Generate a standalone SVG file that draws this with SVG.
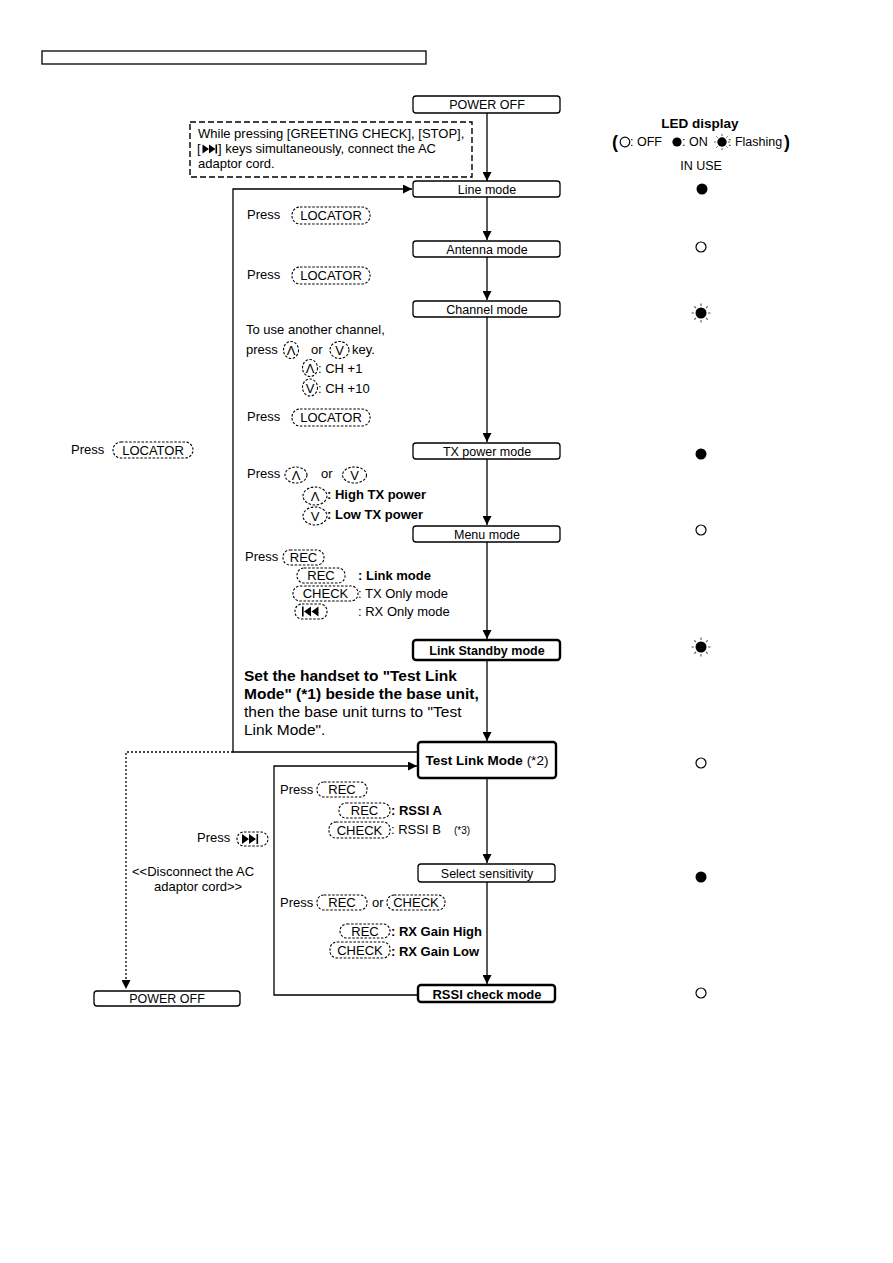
<svg xmlns="http://www.w3.org/2000/svg" width="893" height="1263" viewBox="0 0 893 1263">
<style>
.t{font-family:"Liberation Sans",Arial,sans-serif;font-size:13px;fill:#000}
.s{font-size:12.5px}
.c{text-anchor:middle}
.b{font-weight:bold}
.box{fill:#fff;stroke:#000;stroke-width:1.3}
.bb{fill:#fff;stroke:#000;stroke-width:2.4}
.key{fill:none;stroke:#000;stroke-width:1.1;stroke-dasharray:2.5 1.6}
.ln{fill:none;stroke:#000;stroke-width:1.3}
.dl{fill:none;stroke:#000;stroke-width:1.3;stroke-dasharray:2 2}
.on{fill:#000}
.off{fill:none;stroke:#000;stroke-width:1.2}
.ray{stroke:#555;stroke-width:1.1}
.p16{font-size:15.5px}
.lg{font-size:12.5px}
.par{font-size:18px;font-weight:bold}
</style>
<defs>
<marker id="ah" viewBox="0 0 10 10" refX="10" refY="5" markerWidth="9" markerHeight="9" markerUnits="userSpaceOnUse" orient="auto">
<path d="M0,0 L10,5 L0,10 z" fill="#000"/>
</marker>
<g id="flash">
<circle r="5.5" fill="#000"/>
<path class="ray" d="M0,-7V-9.5M0,7V9.5M-7,0H-9.5M7,0H9.5M5,-5L6.7,-6.7M-5,-5L-6.7,-6.7M5,5L6.7,6.7M-5,5L-6.7,6.7"/>
</g>
</defs>

<rect x="42" y="51" width="384" height="13" fill="none" stroke="#000" stroke-width="1.3"/>

<g id="connectors">
<path class="ln" d="M487,113V181" marker-end="url(#ah)"/>
<path class="ln" d="M487,197V240" marker-end="url(#ah)"/>
<path class="ln" d="M487,257V300" marker-end="url(#ah)"/>
<path class="ln" d="M487,317V442" marker-end="url(#ah)"/>
<path class="ln" d="M487,459V525" marker-end="url(#ah)"/>
<path class="ln" d="M487,542V639" marker-end="url(#ah)"/>
<path class="ln" d="M487,661V741" marker-end="url(#ah)"/>
<path class="ln" d="M487,778V863" marker-end="url(#ah)"/>
<path class="ln" d="M487,882V984" marker-end="url(#ah)"/>
<path class="ln" d="M418,752H233V189H412" marker-end="url(#ah)"/>
<path class="dl" d="M233,752H126V989" marker-end="url(#ah)"/>
<path class="ln" d="M418,995H274V766H417" marker-end="url(#ah)"/>
</g>

<g id="note">
<rect x="190" y="122" width="282" height="55" fill="none" stroke="#000" stroke-width="1.4" stroke-dasharray="6 3"/>
<text class="t" x="198" y="138">While pressing [GREETING CHECK], [STOP],</text>
<text class="t" x="197" y="153">[</text>
<path d="M202.5,144.5V153.5L209,149zM209,144.5V153.5L215.5,149z" fill="#000"/>
<rect x="215.5" y="144.5" width="1.6" height="9" fill="#000"/>
<text class="t" x="218" y="153">] keys simultaneously, connect the AC</text>
<text class="t" x="198" y="168">adaptor cord.</text>
</g>

<g id="n-poweroff"><rect class="box" x="413" y="96" width="147" height="17" rx="3"/><text class="t s c" x="487" y="109">POWER OFF</text></g>
<g id="n-line"><rect class="box" x="413" y="181" width="147" height="16" rx="3"/><text class="t s c" x="487" y="193.5">Line mode</text></g>
<g id="n-antenna"><rect class="box" x="413" y="241" width="147" height="16" rx="3"/><text class="t s c" x="487" y="253.5">Antenna mode</text></g>
<g id="n-channel"><rect class="box" x="413" y="301" width="147" height="16" rx="3"/><text class="t s c" x="487" y="313.5">Channel mode</text></g>
<g id="n-txpower"><rect class="box" x="413" y="443" width="147" height="16" rx="3"/><text class="t s c" x="487" y="455.5">TX power mode</text></g>
<g id="n-menu"><rect class="box" x="413" y="526" width="147" height="16" rx="3"/><text class="t s c" x="487" y="538.5">Menu mode</text></g>
<g id="n-linkstandby"><rect class="bb" x="413" y="640" width="147" height="20" rx="3"/><text class="t s c b" x="487" y="655">Link Standby mode</text></g>
<g id="n-testlink"><rect class="bb" x="418" y="742" width="138" height="36" rx="3"/><text class="t c" x="487" y="764.5" style="font-size:13.5px"><tspan class="b">Test Link Mode</tspan> (*2)</text></g>
<g id="n-select"><rect class="box" x="418" y="864" width="137" height="18" rx="3"/><text class="t s c" x="487" y="877.5">Select sensitivity</text></g>
<g id="n-rssi"><rect class="bb" x="418" y="985" width="137" height="17" rx="3"/><text class="t c b" x="487" y="998.5">RSSI check mode</text></g>
<g id="n-poweroff2"><rect class="box" x="94" y="991" width="146" height="15" rx="3"/><text class="t s c" x="167" y="1003">POWER OFF</text></g>

<g id="led">
<text class="t c b" x="700" y="128" style="font-size:13.5px">LED display</text>
<text class="t par" x="612" y="148">(</text>
<circle class="off" cx="625" cy="142" r="4.8"/>
<text class="t lg" x="630" y="146">: OFF</text>
<circle class="on" cx="677" cy="142" r="4.6"/>
<text class="t lg" x="682" y="146">: ON</text>
<use href="#flash" transform="translate(722 142) scale(0.85)"/>
<text class="t lg" x="728" y="146">: Flashing</text>
<text class="t par" x="784" y="148">)</text>
<text class="t s c" x="701" y="170">IN USE</text>
<circle class="on" cx="702" cy="189" r="5.5"/>
<circle class="off" cx="701" cy="247" r="5"/>
<use href="#flash" x="701" y="313"/>
<circle class="on" cx="701" cy="454" r="5.5"/>
<circle class="off" cx="701" cy="530" r="5"/>
<use href="#flash" x="701" y="647"/>
<circle class="off" cx="701" cy="763" r="5"/>
<circle class="on" cx="701" cy="877" r="5.5"/>
<circle class="off" cx="701" cy="993" r="5"/>
</g>

<g id="labels">
<text class="t" x="247" y="219">Press</text>
<rect class="key" x="292" y="207" width="78" height="17" rx="8"/><text class="t c" x="331" y="220">LOCATOR</text>
<text class="t" x="247" y="279">Press</text>
<rect class="key" x="292" y="267" width="78" height="17" rx="8"/><text class="t c" x="331" y="280">LOCATOR</text>

<text class="t" x="246" y="334">To use another channel,</text>
<text class="t" x="246" y="354">press</text>
<ellipse class="key" cx="291" cy="350" rx="7.5" ry="8.5"/><text class="t c" x="291" y="355">Λ</text>
<text class="t" x="311" y="354">or</text>
<ellipse class="key" cx="339.5" cy="350" rx="9.5" ry="8.5"/><text class="t c" x="339.5" y="355">V</text>
<text class="t" x="352" y="354">key.</text>
<ellipse class="key" cx="310" cy="368" rx="7.5" ry="8.5"/><text class="t c" x="310" y="373">Λ</text>
<text class="t" x="318" y="373">: CH +1</text>
<ellipse class="key" cx="310" cy="387.5" rx="7.5" ry="8.5"/><text class="t c" x="310" y="392.5">V</text>
<text class="t" x="318" y="392.5">: CH +10</text>

<text class="t" x="247" y="421">Press</text>
<rect class="key" x="292" y="409" width="78" height="17" rx="8"/><text class="t c" x="331" y="422">LOCATOR</text>

<text class="t" x="71" y="454">Press</text>
<rect class="key" x="113" y="442" width="80" height="16" rx="8"/><text class="t c" x="153" y="455">LOCATOR</text>

<text class="t" x="247" y="478">Press</text>
<ellipse class="key" cx="296" cy="475" rx="11" ry="8"/><text class="t c" x="296" y="480">Λ</text>
<text class="t" x="321" y="478">or</text>
<ellipse class="key" cx="354.5" cy="475" rx="12" ry="8"/><text class="t c" x="354.5" y="480">V</text>
<ellipse class="key" cx="315" cy="496" rx="12" ry="9"/><text class="t c" x="315" y="501">Λ</text>
<text class="t b" x="327" y="499">: High TX power</text>
<ellipse class="key" cx="315" cy="516" rx="12" ry="9"/><text class="t c" x="315" y="521">V</text>
<text class="t b" x="327" y="519">: Low TX power</text>

<text class="t" x="245" y="561">Press</text>
<rect class="key" x="283" y="550" width="41" height="15" rx="7"/><text class="t c" x="303.5" y="562">REC</text>
<rect class="key" x="297" y="568" width="48" height="15" rx="7"/><text class="t c" x="321" y="580">REC</text>
<text class="t b" x="358" y="580">: Link mode</text>
<rect class="key" x="293" y="586" width="65" height="15" rx="7"/><text class="t c" x="325.5" y="598">CHECK</text>
<text class="t" x="358" y="598">: TX Only mode</text>
<rect class="key" x="295" y="604" width="32" height="15" rx="7"/>
<rect x="302" y="606.5" width="1.6" height="10" fill="#000"/>
<path d="M311,606.5V616.5L304,611.5zM318.5,606.5V616.5L311.5,611.5z" fill="#000"/>
<text class="t" x="358" y="616">: RX Only mode</text>

<text class="t b p16" x="244" y="681">Set the handset  to "Test Link</text>
<text class="t b p16" x="244" y="699">Mode" (*1) beside the base unit,</text>
<text class="t p16" x="244" y="717">then the base unit turns to "Test</text>
<text class="t p16" x="244" y="735">Link Mode".</text>

<text class="t" x="280" y="794">Press</text>
<rect class="key" x="317" y="782" width="50" height="15" rx="7"/><text class="t c" x="342" y="794">REC</text>
<rect class="key" x="339" y="803" width="51" height="15" rx="7"/><text class="t c" x="364.5" y="815">REC</text>
<text class="t b" x="391" y="815">: RSSI A</text>
<rect class="key" x="329" y="822" width="61" height="16" rx="7"/><text class="t c" x="359.5" y="835">CHECK</text>
<text class="t" x="391" y="834">: RSSI B</text>
<text class="t" x="454" y="834" style="font-size:10px">(*3)</text>

<text class="t" x="197" y="842">Press</text>
<rect class="key" x="237" y="832" width="31" height="14" rx="7"/>
<path d="M242,834V844L249,839zM249,834V844L256,839z" fill="#000"/>
<rect x="256.5" y="834" width="1.6" height="10" fill="#000"/>

<text class="t" x="132" y="876">&lt;&lt;Disconnect the AC</text>
<text class="t" x="154" y="891">adaptor cord&gt;&gt;</text>

<text class="t" x="280" y="907">Press</text>
<rect class="key" x="317" y="895" width="50" height="15" rx="7"/><text class="t c" x="342" y="907">REC</text>
<text class="t" x="372" y="907">or</text>
<rect class="key" x="387" y="895" width="58" height="15" rx="7"/><text class="t c" x="416" y="907">CHECK</text>
<rect class="key" x="340" y="924" width="50" height="14" rx="7"/><text class="t c" x="365" y="936">REC</text>
<text class="t b" x="391" y="936">: RX Gain High</text>
<rect class="key" x="330" y="942" width="60" height="16" rx="7"/><text class="t c" x="360" y="955">CHECK</text>
<text class="t b" x="391" y="956">: RX Gain Low</text>
</g>
</svg>
